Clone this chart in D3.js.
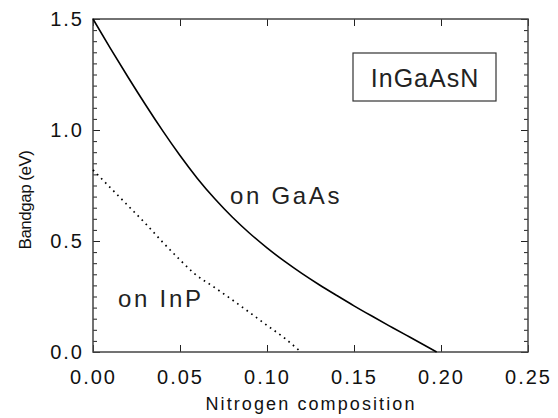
<!DOCTYPE html>
<html>
<head>
<meta charset="utf-8">
<script src="https://cdn.jsdelivr.net/npm/d3@7"></script>
<style>
    body { margin: 0; background: #fff; }
    svg { display: block; font-family: "Liberation Sans", Arial, sans-serif; }
    .axis text { font-size: 20px; letter-spacing: 2px; fill: #111; }
    .axis line { stroke: #222; }
    .axis .domain { display: none; }
</style>
</head>
<body>
<script>
// nitrogen composition vs bandgap (eV)
const gaasN = [0, 0.01, 0.02, 0.03, 0.04, 0.05, 0.06, 0.07, 0.08, 0.09, 0.10,
    0.11, 0.12, 0.13, 0.14, 0.15, 0.16, 0.17, 0.18, 0.19, 0.1975];
const gaasGap = [1.50, 1.368, 1.240, 1.116, 0.997, 0.885, 0.782, 0.690, 0.608, 0.535, 0.469,
    0.409, 0.354, 0.303, 0.255, 0.208, 0.163, 0.119, 0.076, 0.033, 0];

const inpN = [0, 0.01, 0.02, 0.03, 0.04, 0.05, 0.058, 0.07, 0.08, 0.09, 0.10, 0.11, 0.1195];
const inpGap = [0.82, 0.74, 0.66, 0.58, 0.495, 0.415, 0.355, 0.29, 0.235, 0.178, 0.12, 0.063, 0];

const xTicks = [0, 0.05, 0.10, 0.15, 0.20, 0.25],
    yTicks = [0, 0.5, 1.0, 1.5];

const labels = ['on GaAs', 'on InP'];
const boxLabel = 'InGaAsN';

const outerW = 558,
    outerH = 418;

const margin = {
    left: 93,
    right: 30,
    top: 19,
    bottom: 66
};

const w = outerW - margin.left - margin.right,
    h = outerH - margin.top - margin.bottom;

const x = d3.scaleLinear().range([0, w]).domain([0, 0.25]);
const y = d3.scaleLinear().range([h, 0]).domain([0, 1.5]);

const svg = d3.select('body').append('svg')
    .attr('width', outerW)
    .attr('height', outerH);

const g = svg.append('g')
    .attr('transform', `translate(${margin.left}, ${margin.top})`);

// minor y ticks, both sides
const yMinor = d3.range(0, 1.5001, 0.05).filter(v => Math.abs(v * 2 - Math.round(v * 2)) > 1e-6);

g.append('g')
    .attr('class', 'y axis minor')
    .call(d3.axisLeft(y).tickValues(yMinor).tickSize(-4).tickFormat(''));

g.append('g')
    .attr('class', 'y axis minor')
    .attr('transform', `translate(${w}, 0)`)
    .call(d3.axisRight(y).tickValues(yMinor).tickSize(-4).tickFormat(''));

// major ticks
g.append('g')
    .attr('class', 'x axis')
    .attr('transform', `translate(0, ${h})`)
    .call(d3.axisBottom(x)
        .tickValues(xTicks)
        .tickSize(-7)
        .tickPadding(18)
        .tickFormat(d3.format('.2f'))
    );

g.append('g')
    .attr('class', 'x axis')
    .call(d3.axisTop(x).tickValues(xTicks).tickSize(-7).tickFormat(''));

g.append('g')
    .attr('class', 'y axis')
    .call(d3.axisLeft(y)
        .tickValues(yTicks)
        .tickSize(-7)
        .tickPadding(9)
        .tickFormat(d3.format('.1f'))
    );

g.append('g')
    .attr('class', 'y axis')
    .attr('transform', `translate(${w}, 0)`)
    .call(d3.axisRight(y).tickValues(yTicks).tickSize(-7).tickFormat(''));

// frame
g.append('rect')
    .attr('width', w)
    .attr('height', h)
    .attr('fill', 'none')
    .attr('stroke', '#444')
    .attr('stroke-width', 1.5);

const line = d3.line()
    .x(d => x(d[0]))
    .y(d => y(d[1]));

g.append('path')
    .datum(gaasN.map((v, i) => [v, gaasGap[i]]))
    .attr('d', line.curve(d3.curveNatural))
    .attr('fill', 'none')
    .attr('stroke', '#000')
    .attr('stroke-width', 1.6);

g.append('path')
    .datum(inpN.map((v, i) => [v, inpGap[i]]))
    .attr('d', line.curve(d3.curveMonotoneX))
    .attr('fill', 'none')
    .attr('stroke', '#000')
    .attr('stroke-width', 1.7)
    .attr('stroke-dasharray', '1.6,4.2');

// curve labels
g.append('text')
    .attr('x', x(0.0787))
    .attr('y', y(0.667))
    .style('font-size', '24px')
    .style('letter-spacing', '2.7px')
    .attr('fill', '#222')
    .text(labels[0]);

g.append('text')
    .attr('x', x(0.0144))
    .attr('y', y(0.202))
    .style('font-size', '24px')
    .style('letter-spacing', '2.7px')
    .attr('fill', '#222')
    .text(labels[1]);

// material box
const bx = svg.append('g').attr('transform', 'translate(353, 53)');
bx.append('rect')
    .attr('width', 143)
    .attr('height', 48)
    .attr('fill', '#fff')
    .attr('stroke', '#333')
    .attr('stroke-width', 1.2);
bx.append('text')
    .attr('x', 72)
    .attr('y', 34)
    .attr('text-anchor', 'middle')
    .style('font-size', '25px')
    .style('letter-spacing', '1px')
    .attr('fill', '#222')
    .text(boxLabel);

// axis titles
svg.append('text')
    .attr('x', 311)
    .attr('y', 410)
    .attr('text-anchor', 'middle')
    .style('font-size', '18px')
    .style('letter-spacing', '2.1px')
    .attr('fill', '#111')
    .text('Nitrogen composition');

svg.append('text')
    .attr('transform', 'translate(31, 200) rotate(-90)')
    .attr('text-anchor', 'middle')
    .style('font-size', '17px')
    .style('letter-spacing', '-0.5px')
    .attr('fill', '#111')
    .text('Bandgap (eV)');
</script>
</body>
</html>
